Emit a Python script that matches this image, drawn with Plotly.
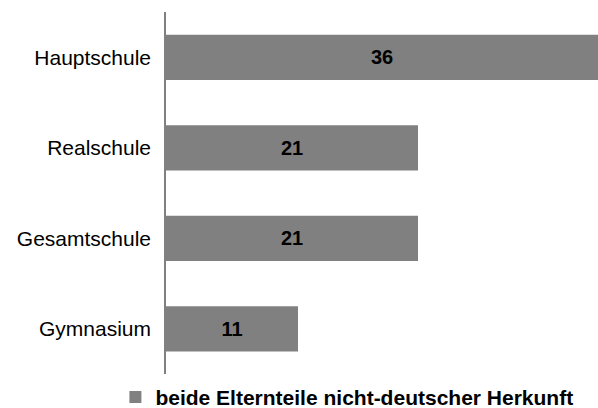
import plotly.graph_objects as go

# Schulformen und Anteile (in %)
schulformen = ["Hauptschule", "Realschule", "Gesamtschule", "Gymnasium"]
anteile = [36, 21, 21, 11]
serie = "beide Elternteile nicht-deutscher Herkunft"

schrift = "Liberation Sans, Arial, Helvetica, sans-serif"

fig = go.Figure()
fig.add_trace(go.Bar(
    y=schulformen,
    x=anteile,
    orientation="h",
    name=serie,
    marker=dict(color="#808080", line=dict(width=0)),
    width=0.5,
    text=[str(v) for v in anteile],
    textposition="inside",
    insidetextanchor="middle",
    textangle=0,
    textfont=dict(family=schrift, size=20, color="#000000", weight="bold"),
    showlegend=True,
))

fig.update_layout(
    width=598,
    height=408,
    margin=dict(l=165.5, r=0, t=12, b=34),
    paper_bgcolor="white",
    plot_bgcolor="white",
    font=dict(family=schrift, size=21, color="#000000"),
    xaxis=dict(
        range=[0, 36],
        showgrid=False,
        zeroline=False,
        showticklabels=False,
        ticks="",
        showline=False,
    ),
    yaxis=dict(
        autorange="reversed",
        showline=True,
        linecolor="#808080",
        linewidth=1.5,
        ticks="",
        showgrid=False,
        ticklabelstandoff=9,
        tickfont=dict(family=schrift, size=21, color="#000000"),
    ),
    legend=dict(
        orientation="h",
        xref="container",
        x=0.193,
        xanchor="left",
        yref="container",
        y=0.026,
        yanchor="middle",
        font=dict(family=schrift, size=21, weight="bold", color="#000000"),
        itemwidth=30,
    ),
)

fig.write_html("out.html")
